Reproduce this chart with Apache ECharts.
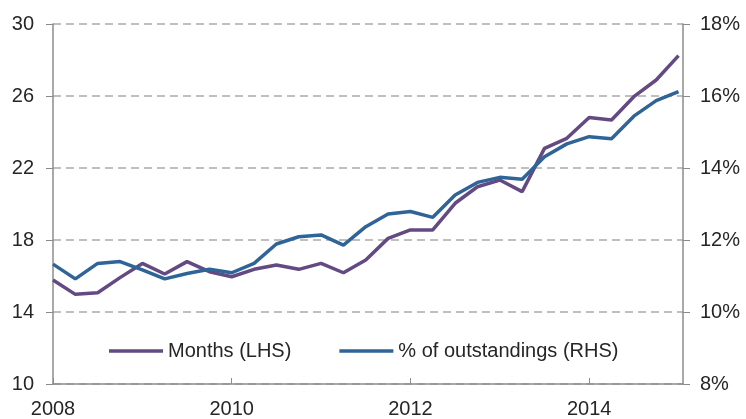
<!DOCTYPE html>
<html><head><meta charset="utf-8">
<script src="https://cdn.jsdelivr.net/npm/echarts@6/dist/echarts.min.js"></script>
<style>html,body{margin:0;padding:0;background:#fff}#c{width:746px;height:419px}</style>
</head><body><div id="c"></div>
<script>
// Quarterly observations 2008 Q1 .. 2015 Q1
const quarters = [];
for (let y = 2008; y <= 2015; y++) for (let q = 0; q < 4; q++) { if (y === 2015 && q > 0) break; quarters.push(y + q * 0.25); }
const monthsLHS = [15.78,14.98,15.07,15.91,16.70,16.11,16.80,16.24,15.96,16.37,16.61,16.37,16.70,16.18,16.89,18.09,18.56,18.56,20.04,20.96,21.33,20.69,23.09,23.65,24.81,24.67,25.96,26.89,28.24];
const pctRHS = [11.33,10.92,11.35,11.40,11.17,10.92,11.07,11.19,11.09,11.35,11.89,12.09,12.14,11.86,12.37,12.72,12.79,12.63,13.25,13.60,13.74,13.69,14.31,14.67,14.87,14.81,15.44,15.87,16.12];
const xTickLabels = [2008, 2010, 2012, 2014];
const seriesNames = ['Months (LHS)', '% of outstandings (RHS)'];

const chart = echarts.init(document.getElementById('c'));
const font = 'Liberation Sans, Arial, sans-serif';
const txt = '#262626';
chart.setOption({
  animation: false,
  textStyle: {fontFamily: font},
  grid: {left: 53, right: 63, top: 24, bottom: 35},
  legend: {
    data: seriesNames, top: 336, left: 104, itemGap: 48, itemWidth: 54, itemHeight: 3.5,
    icon: 'rect', textStyle: {fontSize: 20, color: txt, fontFamily: font}
  },
  xAxis: {
    type: 'value', min: 2008, max: 2015.05, interval: 2,
    axisLine: {lineStyle: {color: '#8c8c8c', width: 1.5}},
    axisTick: {inside: true, length: 6, lineStyle: {color: '#8c8c8c'}},
    splitLine: {show: false},
    axisLabel: {fontSize: 20, color: txt, margin: 15, showMaxLabel: false,
      formatter: v => xTickLabels.includes(v) ? String(v) : ''}
  },
  yAxis: [
    {type: 'value', min: 10, max: 30, interval: 4, position: 'left',
      axisLine: {show: true, lineStyle: {color: '#8c8c8c', width: 1.5}},
      axisTick: {show: true, length: 7, lineStyle: {color: '#8c8c8c'}},
      axisLabel: {fontSize: 20, color: txt, margin: 19},
      splitLine: {show: true, lineStyle: {color: '#bfbfbf', type: [8, 5], width: 2}}},
    {type: 'value', min: 8, max: 18, interval: 2, position: 'right',
      axisLine: {show: true, lineStyle: {color: '#8c8c8c', width: 1.5}},
      axisTick: {show: true, length: 7, lineStyle: {color: '#8c8c8c'}},
      axisLabel: {fontSize: 20, color: txt, margin: 17, formatter: '{value}%'},
      splitLine: {show: false}}
  ],
  series: [
    {name: seriesNames[0], type: 'line', yAxisIndex: 0, symbol: 'none',
      lineStyle: {width: 3.5, color: '#634A82'}, itemStyle: {color: '#634A82'},
      data: quarters.map((q, i) => [q, monthsLHS[i]])},
    {name: seriesNames[1], type: 'line', yAxisIndex: 1, symbol: 'none',
      lineStyle: {width: 3.5, color: '#2F6498'}, itemStyle: {color: '#2F6498'},
      data: quarters.map((q, i) => [q, pctRHS[i]])}
  ]
});
</script></body></html>
